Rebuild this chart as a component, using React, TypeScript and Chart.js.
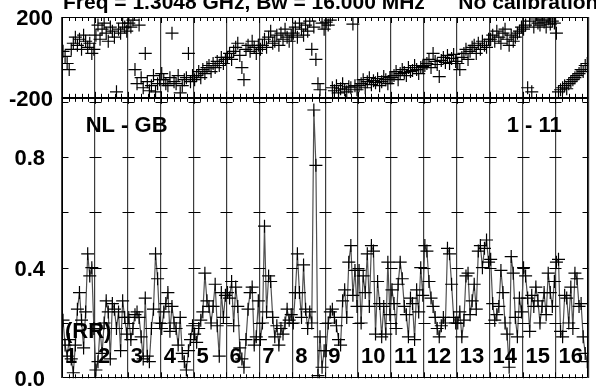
import React, { useEffect, useRef } from 'react';
import { Chart, registerables } from 'chart.js';

Chart.register(...registerables);

// ---- data -------------------------------------------------------------
const CHANNEL_LABELS = ['1', '2', '3', '4', '5', '6', '7', '8', '9', '10', '11', '12', '13', '14', '15', '16'];
const POINTS_PER_CHANNEL = 16;

const TITLE_LEFT = 'Freq = 1.3048 GHz, Bw = 16.000 MHz';
const TITLE_RIGHT = 'No calibration';
const BASELINE_LABEL = 'NL - GB';
const SCAN_LABEL = '1 - 11';
const POL_LABEL = '(RR)';

const PHASE_MIN = -200;
const PHASE_MAX = 200;
const PHASE_TICKS = [-200, 0, 200];
const AMP_MIN = 0;
const AMP_MAX = 1.014;
const AMP_LABEL_TICKS = [0, 0.4, 0.8];
const AMP_MINOR_TICKS = [0.2, 0.4, 0.6, 0.8, 1.0];

// phase (degrees) per channel
const PHASE: number[][] = [
  [30, 5, -30, -60, 40, 70, 100, 60, 90, 40, 110, 80, 50, 70, 20, 40],
  [110, 160, 90, 140, 170, 120, 80, 150, 130, 100, -170, 140, 120, 170, 150, 130],
  [170, 150, 185, -60, -130, 160, -100, -150, 20, -120, -165, -140, -90, -170, -130, -110],
  [-80, -110, -130, -140, -100, 120, -120, -130, -90, -175, -140, -110, -100, 20, -120, -90],
  [-110, -90, -70, -100, -60, -80, -50, -40, -70, -30, -50, -20, -40, 0, -30, -10],
  [0, 20, -10, 30, 50, 70, 10, -50, -110, 40, 60, 30, 80, 50, 20, 60],
  [40, 60, 90, 50, 100, 130, 70, 80, 110, 60, 120, 90, 140, 100, 80, 110],
  [120, 150, 100, 170, 140, 110, 160, 130, 180, 40, 150, -10, -130, -160, 170, 140],
  [175, 160, 185, -150, -165, -140, -175, -155, -130, -160, -170, -145, -150, 165, -140, -160],
  [-140, -130, -110, -150, -120, -100, -135, -115, -125, -105, -140, -120, -95, -110, -130, -100],
  [-100, -90, -70, -110, -80, -60, -75, -90, -50, -70, -65, -40, -60, -80, -50, -45],
  [-40, -30, -10, -50, 20, -20, -35, -95, -15, 0, -25, 10, -30, -5, 15, -20],
  [-30, -60, 0, 20, 40, -10, 30, 50, 60, 20, 70, 40, 80, 60, 50, 90],
  [90, 110, 80, 130, 100, 70, 120, 140, 90, 60, 110, 80, 100, 120, 130, 150],
  [140, 160, -150, 180, -170, 150, 190, 170, 160, 185, 175, 150, 190, 165, 180, 170],
  [120, -170, -160, -150, -140, -155, -130, -120, -110, -100, -90, -80, -60, -70, -40, -30],
];

// amplitude per channel
const AMP: number[][] = [
  [0.21, 0.12, 0.08, 0.14, 0.07, 0.02, 0.12, 0.25, 0.31, 0.21, 0.11, 0.24, 0.45, 0.37, 0.40, 0.18],
  [0.03, 0.06, 0.18, 0.09, 0.20, 0.28, 0.24, 0.07, 0.27, 0.25, 0.18, 0.24, 0.10, 0.28, 0.22, 0.16],
  [0.22, 0.14, 0.18, 0.23, 0.24, 0.22, 0.15, 0.07, 0.29, 0.08, 0.06, 0.18, 0.25, 0.45, 0.36, 0.20],
  [0.18, 0.24, 0.27, 0.31, 0.17, 0.26, 0.20, 0.18, 0.12, 0.22, 0.09, 0.06, 0.03, 0.10, 0.14, 0.19],
  [0.16, 0.13, 0.18, 0.21, 0.24, 0.38, 0.28, 0.26, 0.20, 0.26, 0.34, 0.19, 0.08, 0.31, 0.22, 0.30],
  [0.31, 0.29, 0.35, 0.19, 0.33, 0.26, 0.11, 0.07, 0.04, 0.14, 0.25, 0.31, 0.33, 0.12, 0.15, 0.28],
  [0.14, 0.20, 0.55, 0.24, 0.37, 0.35, 0.22, 0.15, 0.19, 0.12, 0.18, 0.16, 0.20, 0.25, 0.21, 0.23],
  [0.20, 0.31, 0.45, 0.31, 0.22, 0.41, 0.25, 0.18, 0.24, 0.20, 0.97, 0.77, 0.01, 0.15, 0.04, 0.10],
  [0.10, 0.20, 0.24, 0.25, 0.22, 0.19, 0.14, 0.12, 0.28, 0.32, 0.22, 0.42, 0.48, 0.30, 0.39, 0.26],
  [0.39, 0.20, 0.37, 0.31, 0.45, 0.26, 0.48, 0.46, 0.16, 0.35, 0.27, 0.15, 0.26, 0.16, 0.42, 0.23],
  [0.32, 0.27, 0.18, 0.34, 0.42, 0.36, 0.26, 0.23, 0.15, 0.29, 0.27, 0.14, 0.32, 0.24, 0.40, 0.30],
  [0.48, 0.46, 0.35, 0.29, 0.26, 0.22, 0.18, 0.15, 0.19, 0.22, 0.20, 0.47, 0.45, 0.34, 0.22, 0.20],
  [0.20, 0.24, 0.15, 0.21, 0.37, 0.38, 0.23, 0.28, 0.34, 0.25, 0.46, 0.48, 0.40, 0.47, 0.50, 0.42],
  [0.43, 0.27, 0.21, 0.23, 0.26, 0.39, 0.31, 0.20, 0.16, 0.04, 0.44, 0.38, 0.22, 0.15, 0.29, 0.24],
  [0.40, 0.37, 0.29, 0.17, 0.30, 0.26, 0.33, 0.28, 0.20, 0.26, 0.31, 0.23, 0.38, 0.31, 0.26, 0.35],
  [0.42, 0.43, 0.17, 0.15, 0.30, 0.29, 0.20, 0.33, 0.18, 0.38, 0.36, 0.26, 0.27, 0.15, 0.09, 0.06],
];

// ---- helpers ------------------------------------------------------------
const FONT_FAMILY = '"Liberation Sans", Arial, Helvetica, sans-serif';
const nChan = CHANNEL_LABELS.length;
const channelEdges = Array.from({ length: nChan + 1 }, (_, i) => i);

function toPoints(rows: number[][]) {
  const pts: { x: number; y: number }[] = [];
  rows.forEach((row, c) => {
    row.forEach((v, j) => {
      pts.push({ x: c + (j + 0.5) / POINTS_PER_CHANNEL, y: v });
    });
  });
  return pts;
}

const decorPlugin = {
  id: 'decor',
  afterDatasetsDraw(chart: any) {
    const { ctx, chartArea } = chart;
    const xS = chart.scales.x;
    const yA = chart.scales.yA;
    const yP = chart.scales.yP;
    const { left, right, top, bottom } = chartArea;
    const sep = yP.bottom;
    ctx.save();
    ctx.strokeStyle = '#000';
    ctx.lineWidth = 1;
    // amplitude ticks on every channel line
    ctx.beginPath();
    channelEdges.forEach((e) => {
      const x = Math.round(xS.getPixelForValue(e)) + 0.5;
      AMP_MINOR_TICKS.forEach((v) => {
        const y = Math.round(yA.getPixelForValue(v)) + 0.5;
        ctx.moveTo(Math.max(left, x - 6), y);
        ctx.lineTo(Math.min(right, x + 6), y);
      });
    });
    // minor x ticks (5 per channel)
    for (let k = 1; k < nChan * 5; k++) {
      const x = Math.round(xS.getPixelForValue(k / 5)) + 0.5;
      const len = k % 5 === 0 ? 6 : 4;
      ctx.moveTo(x, top);
      ctx.lineTo(x, top + len);
      ctx.moveTo(x, sep - len);
      ctx.lineTo(x, sep + len);
      ctx.moveTo(x, bottom);
      ctx.lineTo(x, bottom - len);
    }
    ctx.stroke();
    // frame and panel separator
    ctx.beginPath();
    ctx.rect(Math.round(left) + 0.5, Math.round(top) + 0.5, Math.round(right - left) - 1, Math.round(bottom - top) - 1);
    ctx.moveTo(left, Math.round(sep) + 0.5);
    ctx.lineTo(right, Math.round(sep) + 0.5);
    ctx.stroke();

    // texts
    ctx.fillStyle = '#000';
    ctx.textBaseline = 'alphabetic';
    ctx.textAlign = 'left';
    ctx.font = `bold 21px ${FONT_FAMILY}`;
    ctx.fillText(TITLE_LEFT, left + 1, top - 8);
    ctx.fillText(TITLE_RIGHT, xS.getPixelForValue(12.05), top - 8);
    ctx.font = `bold 22px ${FONT_FAMILY}`;
    ctx.fillText(BASELINE_LABEL, xS.getPixelForValue(0.72), yA.getPixelForValue(0.89));
    ctx.fillText(SCAN_LABEL, xS.getPixelForValue(13.52), yA.getPixelForValue(0.89));
    ctx.fillText(POL_LABEL, xS.getPixelForValue(0.09), yA.getPixelForValue(0.145));
    CHANNEL_LABELS.forEach((lab, c) => {
      ctx.fillText(lab, xS.getPixelForValue(c) + 3, yA.getPixelForValue(0.054));
    });
    ctx.restore();
  },
};

export default function App() {
  const canvasRef = useRef<HTMLCanvasElement | null>(null);

  useEffect(() => {
    const canvas = canvasRef.current;
    if (!canvas) return;
    const tickFont = { family: FONT_FAMILY, size: 22, weight: 'bold' as const };
    const chart = new Chart(canvas, {
      type: 'scatter',
      data: {
        datasets: [
          {
            label: 'Amplitude',
            data: toPoints(AMP),
            xAxisID: 'x',
            yAxisID: 'yA',
            showLine: true,
            borderColor: '#505050',
            borderWidth: 1.2,
            pointStyle: 'cross',
            pointRadius: 6.5,
            pointBorderColor: '#000',
            pointBorderWidth: 1.2,
            pointBackgroundColor: '#000',
          } as any,
          {
            label: 'Phase',
            data: toPoints(PHASE),
            xAxisID: 'x',
            yAxisID: 'yP',
            showLine: false,
            pointStyle: 'cross',
            pointRadius: 6.5,
            pointBorderColor: '#000',
            pointBorderWidth: 1.2,
            pointBackgroundColor: '#000',
          } as any,
        ],
      },
      options: {
        animation: false,
        responsive: false,
        devicePixelRatio: 1,
        events: [],
        layout: { padding: { top: 17, right: 1, bottom: 0, left: 0 } },
        plugins: { legend: { display: false }, tooltip: { enabled: false }, title: { display: false } },
        scales: {
          x: {
            type: 'linear',
            position: 'bottom',
            min: 0,
            max: nChan,
            afterBuildTicks: (s: any) => {
              s.ticks = channelEdges.map((v) => ({ value: v }));
            },
            ticks: { display: false },
            grid: { color: '#3c3c3c', lineWidth: 1.2, drawTicks: false, drawOnChartArea: true },
            border: { display: false },
            afterFit: (s: any) => {
              s.height = 7;
              s.paddingLeft = 0;
              s.paddingRight = 0;
            },
          },
          yA: {
            type: 'linear',
            position: 'left',
            stack: 'panels',
            stackWeight: 281,
            min: AMP_MIN,
            max: AMP_MAX,
            afterBuildTicks: (s: any) => {
              s.ticks = AMP_LABEL_TICKS.map((v) => ({ value: v }));
            },
            ticks: {
              color: '#000',
              font: tickFont,
              padding: 9,
              labelOffset: 2,
              callback: (v: any) => Number(v).toFixed(1),
            },
            grid: { display: false },
            border: { display: false },
            afterFit: (s: any) => {
              s.width = 62;
              s.paddingTop = 0;
              s.paddingBottom = 0;
            },
          },
          yP: {
            type: 'linear',
            position: 'left',
            stack: 'panels',
            stackWeight: 81,
            min: PHASE_MIN,
            max: PHASE_MAX,
            afterBuildTicks: (s: any) => {
              s.ticks = PHASE_TICKS.map((v) => ({ value: v }));
            },
            ticks: {
              color: '#000',
              font: tickFont,
              padding: 9,
              labelOffset: 2,
              callback: (v: any) => (Number(v) === 0 ? '' : String(v)),
            },
            grid: { color: '#000', lineWidth: 1, drawTicks: false, drawOnChartArea: true },
            border: { display: false },
            afterFit: (s: any) => {
              s.width = 62;
              s.paddingTop = 0;
              s.paddingBottom = 0;
            },
          },
        },
      },
      plugins: [decorPlugin],
    });
    return () => chart.destroy();
  }, []);

  return (
    <div style={{ position: 'fixed', left: 0, top: 0, width: 596, height: 386, background: '#fff' }}>
      <canvas ref={canvasRef} width={596} height={386} style={{ display: 'block', width: 596, height: 386 }} />
    </div>
  );
}
